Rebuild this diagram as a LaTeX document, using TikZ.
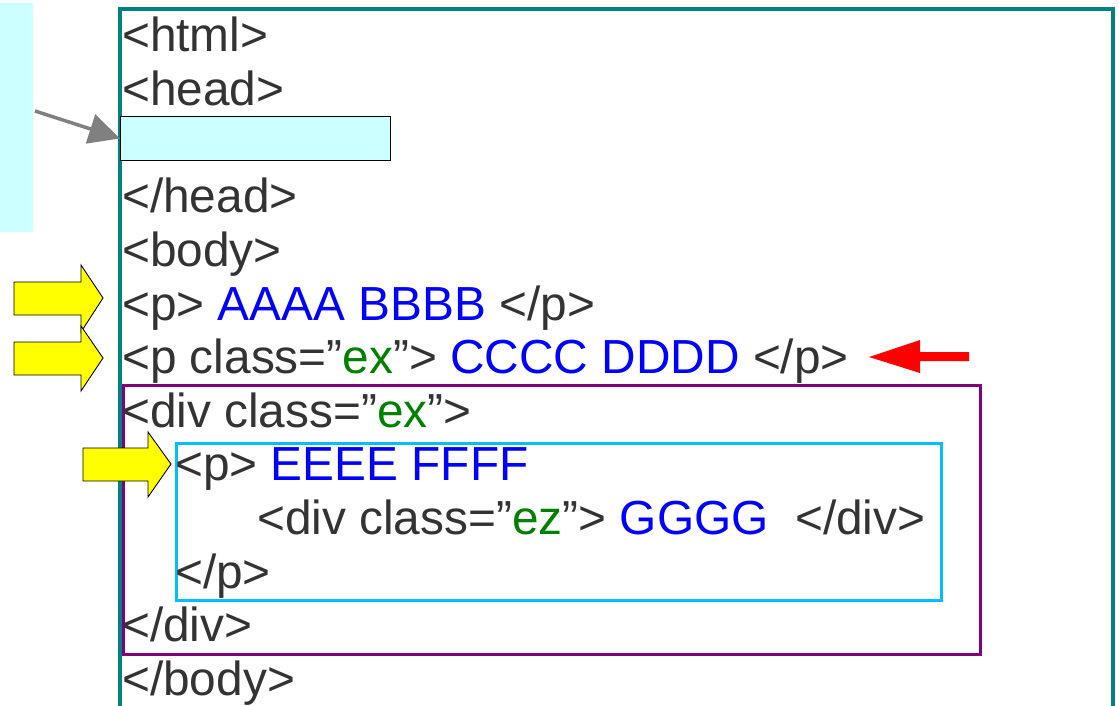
\documentclass[tikz,border=0pt]{standalone}
\usepackage{fontspec}
\setmainfont{Liberation Sans}
\usetikzlibrary{arrows.meta}
\definecolor{tagc}{HTML}{333333}
\definecolor{blu}{HTML}{0000FF}
\definecolor{grn}{HTML}{008000}
\definecolor{tealc}{HTML}{008080}
\definecolor{purp}{HTML}{800080}
\definecolor{sky}{HTML}{00BFFF}
\definecolor{cyanf}{HTML}{CCFFFF}
\definecolor{redc}{HTML}{FF0000}
\definecolor{yel}{HTML}{FFFF00}
\definecolor{grayc}{HTML}{808080}
\begin{document}
\begin{tikzpicture}[x=1pt,y=-1pt,
  codeline/.style={inner sep=0pt, anchor=base west, text=tagc, font=\fontsize{47.8}{57}\selectfont},
  boxnode/.style={inner sep=0pt, anchor=north west},
  yarrow/.style={fill=yel, draw=black, line width=0.9pt, line join=miter}]
\useasboundingbox (0,0) rectangle (1119,706);
\clip (0,0) rectangle (1119,706);
% side panel
\node[boxnode, fill=cyanf, minimum width=33pt, minimum height=229pt] (side) at (0,3) {};
% outer teal frame
\node[boxnode, draw=tealc, line width=4pt, minimum width=993pt, minimum height=740pt] (page) at (118,7) {};
% head box
\node[boxnode, draw=black, line width=1pt, fill=cyanf, minimum width=270pt, minimum height=44pt] (headbox) at (120,116) {};
% div box and p box
\node[boxnode, draw=purp, line width=3pt, minimum width=857pt, minimum height=269pt] (divbox) at (121.5,383.5) {};
\node[boxnode, draw=sky, line width=3pt, minimum width=765pt, minimum height=157pt] (pbox) at (175,442) {};
% text lines
\node[codeline] (l0) at (122,52) {<html>};
\node[codeline] (l1) at (122,105.6) {<head>};
\node[codeline] (l3) at (122,212.8) {</head>};
\node[codeline] (l4) at (122,266.4) {<body>};
\node[codeline] (l5) at (122,320) {<p> \textcolor{blu}{AAAA BBBB} </p>};
\node[codeline] (l6) at (122,373.6) {<p class=”\textcolor{grn}{ex}”> \textcolor{blu}{CCCC DDDD} </p>};
\node[codeline] (l7) at (122,427.2) {<div class=”\textcolor{grn}{ex}”>};
\node[codeline] (l8) at (175,480.8) {<p> \textcolor{blu}{EEEE FFFF}};
\node[codeline] (l9) at (257,534.4) {<div class=”\textcolor{grn}{ez}”> \textcolor{blu}{GGGG}\ \ </div>};
\node[codeline] (l10) at (175,588) {</p>};
\node[codeline] (l11) at (122,641.6) {</div>};
\node[codeline] (l12) at (122,695.2) {</body>};
% gray arrow
\coordinate (gs) at (35,111);
\draw[grayc, line width=3.5pt, -{Triangle[length=31pt,width=30pt]}] (gs) -- (headbox.west);
% yellow arrows
\draw[yarrow] (14,282) -- (81,282) -- (81,265) -- (103,298) -- (81,332) -- (81,315) -- (14,315) -- cycle;
\draw[yarrow] (14,342) -- (81,342) -- (81,326) -- (103,358) -- (81,391) -- (81,375) -- (14,375) -- cycle;
\draw[yarrow] (83,448) -- (148,448) -- (148,432) -- (171,464) -- (148,497) -- (148,481) -- (83,481) -- cycle;
% red arrow
\fill[redc] (969,352) -- (920,352) -- (920,340) -- (869,357) -- (920,373) -- (920,361) -- (969,361) -- cycle;
\end{tikzpicture}
\end{document}
